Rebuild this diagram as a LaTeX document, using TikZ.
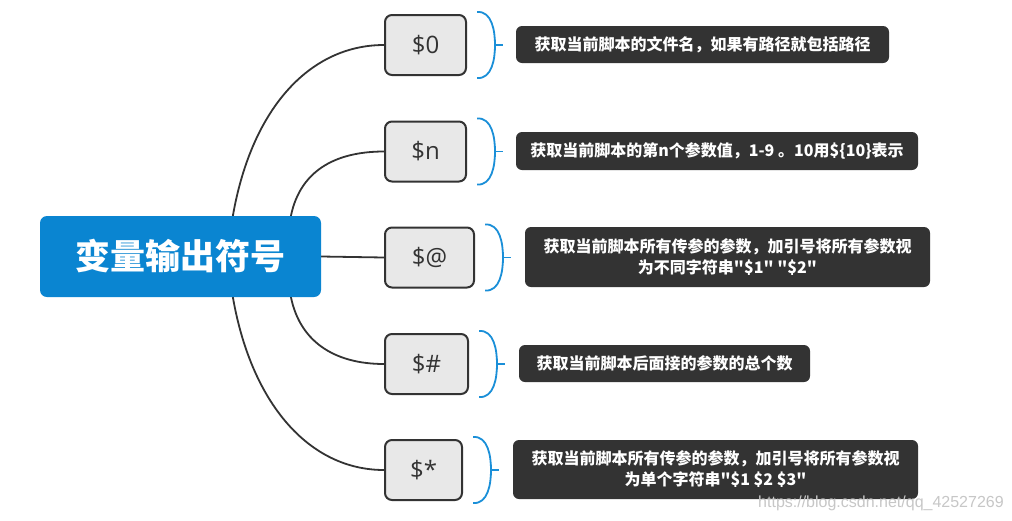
\documentclass[tikz,border=0pt]{standalone}
\usepackage{fontspec}
\usetikzlibrary{backgrounds}
\newfontfamily\cjk{Noto Sans CJK SC}
\newfontfamily\keyfont{Open Sans}
\newfontfamily\wmfont{Liberation Sans}
\definecolor{rootblue}{HTML}{0A85D1}
\definecolor{brk}{HTML}{1A8FD8}
\definecolor{ink}{HTML}{333333}
\definecolor{keyfill}{HTML}{E8E8E8}
\definecolor{descfill}{HTML}{333333}
\begin{document}
\begin{tikzpicture}[x=1pt,y=-1pt,
 rootbox/.style={fill=rootblue, rounded corners=7pt, text=white, font=\cjk\bfseries\fontsize{35}{40}\selectfont, minimum width=281pt, minimum height=81pt, inner sep=0pt},
 keybox/.style={draw=ink, line width=2pt, fill=keyfill, rounded corners=7pt, text=ink, font=\keyfont\fontsize{24}{28}\selectfont, minimum height=60pt, inner sep=0pt},
 descbox/.style={fill=descfill, rounded corners=6pt, text=white, font=\cjk\bfseries\fontsize{16}{21}\selectfont, align=center, inner sep=0pt},
 link/.style={draw=ink, line width=1.8pt},
 brace/.style={draw=brk, line width=1.8pt}]
\useasboundingbox (0,0) rectangle (1012,520);

\node[rootbox] (root) at (180.5,256.5) {变量输出符号};

\node[keybox, minimum width=81pt] (kz) at (425.5,45) {\$0};
\node[keybox, minimum width=81pt] (kn) at (425.5,151.5) {\$n};
\node[keybox, minimum width=89pt] (kat) at (429.5,257.5) {\$@};
\node[keybox, minimum width=83pt] (khash) at (426.5,364) {\$\#};
\node[keybox, minimum width=77pt] (kstar) at (423.5,470) {\$*};

\node[descbox, minimum width=373pt, minimum height=37pt] (dz) at (702.5,44.5) {获取当前脚本的文件名，如果有路径就包括路径};
\node[descbox, minimum width=402pt, minimum height=38pt] (dn) at (717,151) {获取当前脚本的第n个参数值，1-9 。10用\$\{10\}表示};
\node[descbox, minimum width=405pt, minimum height=60pt] (dat) at (727.5,257) {获取当前脚本所有传参的参数，加引号将所有参数视\\为不同字符串"\$1" "\$2"};
\node[descbox, minimum width=291pt, minimum height=37pt] (dhash) at (664.5,363.5) {获取当前脚本后面接的参数的总个数};
\node[descbox, minimum width=405pt, minimum height=59pt] (dstar) at (715.5,469.5) {获取当前脚本所有传参的参数，加引号将所有参数视\\为单个字符串"\$1 \$2 \$3"};

\begin{scope}[on background layer]
\fill[white] (0,0) rectangle (1012,520);
\draw[link] ([xshift=-89pt,yshift=-4pt]root.north east) .. controls +(18,-110) and +(-75,0) .. (kz.west);
\draw[link] ([xshift=-31pt,yshift=-4pt]root.north east) .. controls +(8,-48) and +(-50,0) .. (kn.west);
\draw[link] (root.east) -- (kat.west);
\draw[link] ([xshift=-31pt,yshift=4pt]root.south east) .. controls +(8,48) and +(-50,0) .. (khash.west);
\draw[link] ([xshift=-89pt,yshift=4pt]root.south east) .. controls +(18,110) and +(-75,0) .. (kstar.west);
\end{scope}

\foreach \k in {kz,kn,kat,khash,kstar}{
  \coordinate (\k-bm) at ([xshift=28pt]\k.east);
  \coordinate (\k-bt) at ([xshift=36pt]\k.east);
  \draw[brace] ([xshift=10pt,yshift=2pt]\k.north east) to[out=5,in=90] (\k-bm) to[out=-90,in=-5] ([xshift=10pt,yshift=-2pt]\k.south east);
  \draw[brace] (\k-bm) -- (\k-bt);
}

\node[font=\wmfont\fontsize{16}{18}\selectfont, text=black!22, anchor=base west, inner sep=0pt] (wm) at (758,507) {https://blog.csdn.net/qq\_42527269};
\end{tikzpicture}
\end{document}
